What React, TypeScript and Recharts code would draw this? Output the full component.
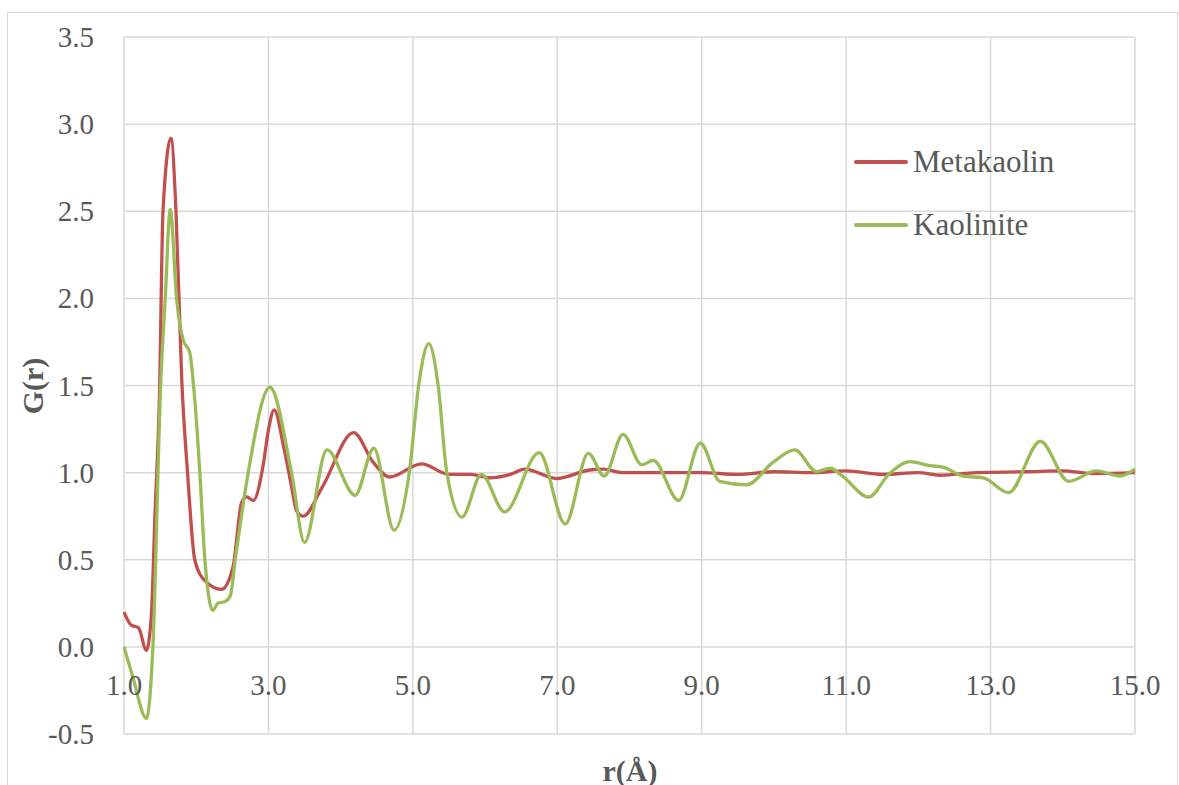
import React from 'react';
import { LineChart, Line, XAxis, YAxis, CartesianGrid, Legend } from 'recharts';

// r (Å) and G(r)
const metakaolinR = [
  1.0, 1.1, 1.2, 1.31, 1.38, 1.43, 1.49, 1.54, 1.65, 1.72, 1.8, 1.88, 1.98, 2.12, 2.35, 2.51, 2.63, 2.7,
  2.79, 2.93, 3.0, 3.08, 3.21, 3.32, 3.39, 3.48, 3.75, 4.18, 4.45, 4.68, 5.12, 5.5, 5.8, 6.07, 6.35, 6.55,
  6.99, 7.45, 7.64, 7.9, 8.5, 9.0, 9.5, 10.0, 10.5, 11.0, 11.5, 12.0, 12.3, 12.8, 13.5, 14.0, 14.4, 15.0,
];
const metakaolinG = [
  0.2, 0.125, 0.11, -0.02, 0.19, 0.77, 1.42, 2.5, 2.92, 2.5, 1.53, 1.0, 0.5, 0.38, 0.33, 0.46, 0.83, 0.86,
  0.84, 1.05, 1.245, 1.36, 1.15, 0.92, 0.78, 0.75, 0.92, 1.23, 1.06, 0.975, 1.05, 0.99, 0.99, 0.97, 0.99, 1.02,
  0.966, 1.015, 1.02, 1.0, 1.0, 1.0, 0.99, 1.005, 1.0, 1.01, 0.99, 1.0, 0.985, 1.0, 1.005, 1.01, 0.995, 1.0,
];

const kaoliniteR = [
  1.0, 1.12, 1.31, 1.4, 1.51, 1.57, 1.64, 1.73, 1.82, 1.91, 1.98, 2.05, 2.12, 2.23, 2.3, 2.4, 2.47, 2.54,
  2.72, 3.02, 3.32, 3.5, 3.81, 4.2, 4.46, 4.74, 4.95, 5.09, 5.22, 5.35, 5.47, 5.68, 5.95, 6.27, 6.75,
  7.11, 7.43, 7.65, 7.91, 8.17, 8.33, 8.68, 8.98, 9.25, 9.62, 9.99, 10.29, 10.59, 10.78, 10.95, 11.31, 11.6,
  11.88, 12.16, 12.35, 12.62, 12.9, 13.25, 13.69, 14.08, 14.47, 14.79, 15.0,
];
const kaoliniteG = [
  0.0, -0.17, -0.41, 0.0, 1.53, 1.99, 2.51, 1.99, 1.76, 1.69, 1.42, 1.0, 0.5, 0.21, 0.25, 0.26, 0.29, 0.5,
  1.0, 1.49, 1.0, 0.6, 1.13, 0.87, 1.14, 0.67, 1.0, 1.53, 1.74, 1.5, 1.0, 0.745, 0.99, 0.775, 1.115,
  0.705, 1.11, 0.98, 1.22, 1.045, 1.07, 0.84, 1.17, 0.95, 0.93, 1.06, 1.13, 1.006, 1.025, 0.98, 0.86, 0.995,
  1.063, 1.04, 1.03, 0.98, 0.97, 0.885, 1.18, 0.95, 1.01, 0.98, 1.02,
];

const xTicks = [1, 3, 5, 7, 9, 11, 13, 15];
const yTicks = [-0.5, 0, 0.5, 1, 1.5, 2, 2.5, 3, 3.5];

const metakaolinData = metakaolinR.map((r, i) => ({ r, g: metakaolinG[i] }));
const kaoliniteData = kaoliniteR.map((r, i) => ({ r, g: kaoliniteG[i] }));

const FONT = "'Liberation Serif', 'Times New Roman', serif";
const TEXT = '#595959';
const RED = '#C0504D';
const GREEN = '#9BBB59';

const XTick = (props: any) => {
  const { x, y, payload } = props;
  return (
    <text x={x} y={y - 49} textAnchor="middle" dominantBaseline="central" fill={TEXT} fontSize={29} fontFamily={FONT}>
      {Number(payload.value).toFixed(1)}
    </text>
  );
};

const YTick = (props: any) => {
  const { x, y, payload } = props;
  return (
    <text x={x} y={y} textAnchor="end" dominantBaseline="central" fill={TEXT} fontSize={29} fontFamily={FONT}>
      {Number(payload.value).toFixed(1)}
    </text>
  );
};

const legendItems = [
  { name: 'Metakaolin', color: RED },
  { name: 'Kaolinite', color: GREEN },
];

const LegendBox = () => (
  <div style={{ fontFamily: FONT }}>
    {legendItems.map((it) => (
      <div key={it.name} style={{ display: 'flex', alignItems: 'center', height: 63 }}>
        <div style={{ width: 54, height: 4, background: it.color, borderRadius: 2, marginRight: 5 }} />
        <span style={{ fontSize: 31, color: TEXT }}>{it.name}</span>
      </div>
    ))}
  </div>
);

export default function App() {
  return (
    <div style={{ position: 'absolute', left: 0, top: 0, width: 1179, height: 785, overflow: 'hidden', background: '#fff' }}>
      <div style={{ position: 'absolute', left: 7, top: 12, width: 1169, height: 800, border: '1px solid #d9d9d9' }} />
      <LineChart width={1179} height={785} margin={{ top: 37, right: 44, bottom: 0, left: 0 }}>
        <CartesianGrid stroke="#d9d9d9" strokeWidth={1.5} />
        <XAxis
          type="number"
          dataKey="r"
          domain={[1, 15]}
          ticks={xTicks}
          height={51}
          axisLine={false}
          tickLine={false}
          tickSize={0}
          tickMargin={0}
          tick={<XTick />}
          label={{
            content: () => (
              <text x={630} y={770} textAnchor="middle" dominantBaseline="central" fill={TEXT} fontSize={30} fontWeight="bold" fontFamily={FONT}>
                r(Å)
              </text>
            ),
          }}
        />
        <YAxis
          type="number"
          domain={[-0.5, 3.5]}
          ticks={yTicks}
          width={124}
          axisLine={false}
          tickLine={false}
          tickSize={0}
          tickMargin={30}
          tick={<YTick />}
          label={{
            content: () => (
              <text x={32} y={386} transform="rotate(-90 32 386)" textAnchor="middle" dominantBaseline="central" fill={TEXT} fontSize={30} fontWeight="bold" fontFamily={FONT}>
                G(r)
              </text>
            ),
          }}
        />
        <Legend
          layout="horizontal"
          verticalAlign="middle"
          align="center"
          content={<LegendBox />}
          wrapperStyle={{ position: 'absolute', left: 854, top: 130, width: 280 }}
        />
        <Line data={metakaolinData} dataKey="g" name="Metakaolin" type="monotone" stroke={RED} strokeWidth={3.3} dot={false} isAnimationActive={false} />
        <Line data={kaoliniteData} dataKey="g" name="Kaolinite" type="monotone" stroke={GREEN} strokeWidth={3.3} dot={false} isAnimationActive={false} />
      </LineChart>
    </div>
  );
}
